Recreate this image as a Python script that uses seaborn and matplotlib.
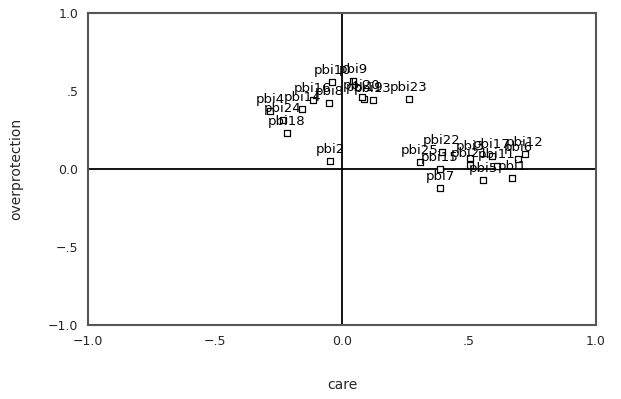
import matplotlib
matplotlib.use("Agg")
import matplotlib.pyplot as plt
import seaborn as sns
import pandas as pd

labels = ["pbi1", "pbi2", "pbi3", "pbi4", "pbi5", "pbi6", "pbi7", "pbi8", "pbi9",
          "pbi10", "pbi11", "pbi12", "pbi13", "pbi14", "pbi15", "pbi16", "pbi17",
          "pbi18", "pbi19", "pbi20", "pbi21", "pbi22", "pbi23", "pbi24", "pbi25"]
care = [0.669, -0.047, 0.504, -0.283, 0.555, 0.693, 0.386, -0.051, 0.043,
        -0.039, 0.610, 0.720, 0.122, -0.157, 0.386, -0.114, 0.590,
        -0.217, 0.087, 0.079, 0.504, 0.394, 0.264, -0.232, 0.307]
overprotection = [-0.058, 0.051, 0.070, 0.372, -0.070, 0.064, -0.122, 0.423, 0.564,
                  0.558, 0.019, 0.096, 0.442, 0.385, 0.000, 0.442, 0.083,
                  0.231, 0.449, 0.462, 0.026, 0.109, 0.449, 0.314, 0.045]
tick_values = [-1.0, -0.5, 0.0, 0.5, 1.0]
tick_labels = ["\u22121.0", "\u2212.5", "0.0", ".5", "1.0"]

df = pd.DataFrame({"label": labels, "care": care, "overprotection": overprotection})

sns.set_style("white")
plt.rcParams["font.family"] = ["DejaVu Sans"]

fig = plt.figure(figsize=(6.21, 3.99), dpi=100)
ax = fig.add_axes([0.1417, 0.1855, 0.8180, 0.7819])

ax.axhline(0, color="black", lw=1.3, zorder=1)
ax.axvline(0, color="black", lw=1.3, zorder=1)

sns.scatterplot(data=df, x="care", y="overprotection", ax=ax, marker="s", s=13,
                facecolor="white", edgecolor="black", linewidth=0.9, zorder=3)

for _, r in df.iterrows():
    ax.annotate(r["label"], (r["care"], r["overprotection"]), xytext=(0, 8),
                textcoords="offset points", ha="center", va="center",
                fontsize=9.5, color="black", zorder=4)

ax.set_xlim(-1, 1)
ax.set_ylim(-1, 1)
ax.set_xticks(tick_values)
ax.set_xticklabels(tick_labels)
ax.set_yticks(tick_values)
ax.set_yticklabels(tick_labels)
ax.tick_params(axis="both", which="major", direction="out", length=3, width=1.5,
               labelsize=9, color="black", pad=4)
for sp in ax.spines.values():
    sp.set_visible(True)
    sp.set_color("#555555")
    sp.set_linewidth(1.5)
ax.set_xlabel("care", fontsize=10, labelpad=22)
ax.set_ylabel("overprotection", fontsize=10, labelpad=18)

fig.savefig("out.png", dpi=100)
